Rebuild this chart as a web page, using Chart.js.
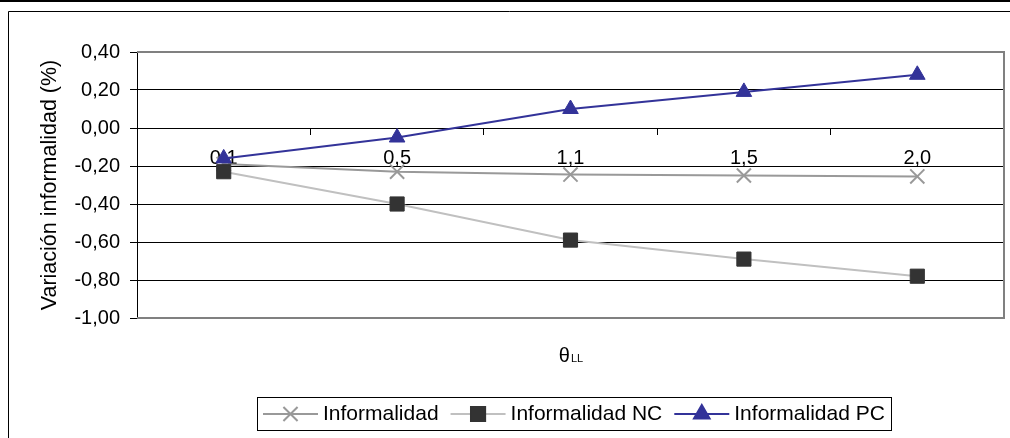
<!DOCTYPE html>
<html>
<head>
<meta charset="utf-8">
<script src="https://cdn.jsdelivr.net/npm/chart.js@4/dist/chart.umd.min.js"></script>
<style>
  html, body { margin: 0; padding: 0; background: #fff; }
  #wrap { width: 1010px; height: 438px; position: relative; }
</style>
</head>
<body>
<div id="wrap"><canvas id="chart"></canvas></div>
<script>
// values
const categories = ['0,1', '0,5', '1,1', '1,5', '2,0'];
const informalidad = [-0.19, -0.23, -0.245, -0.25, -0.255];
const informalidadNC = [-0.23, -0.40, -0.59, -0.69, -0.78];
const informalidadPC = [-0.16, -0.05, 0.10, 0.19, 0.28];
const seriesNames = ['Informalidad', 'Informalidad NC', 'Informalidad PC'];
const yTitle = 'Variación informalidad (%)';
const xTitle = 'θ';
const xTitleSub = 'LL';

const FONT = 'Arial, "Liberation Sans", sans-serif';
const comma = v => (Math.abs(v) < 1e-9 ? 0 : v).toFixed(2).replace('.', ',');

// outer frame + grey plot border
const frame = {
  id: 'frame',
  beforeDraw(chart) {
    const { ctx, width, height } = chart;
    ctx.save();
    ctx.fillStyle = '#fff';
    ctx.fillRect(0, 0, width, height);
    ctx.strokeStyle = '#000';
    ctx.lineWidth = 2;
    ctx.beginPath(); ctx.moveTo(0, 1); ctx.lineTo(width, 1); ctx.stroke();
    ctx.lineWidth = 1;
    ctx.beginPath(); ctx.moveTo(8.5, height); ctx.lineTo(8.5, 11.5); ctx.lineTo(width, 11.5); ctx.stroke();
    ctx.restore();
  },
  beforeDatasetsDraw(chart) {
    const { ctx, chartArea: a } = chart;
    ctx.save();
    ctx.strokeStyle = '#808080';
    ctx.lineWidth = 2;
    ctx.beginPath();
    ctx.moveTo(a.left, a.top); ctx.lineTo(a.right, a.top);
    ctx.lineTo(a.right, a.bottom); ctx.lineTo(a.left, a.bottom);
    ctx.stroke();
    ctx.restore();
  }
};

// x title with subscript, under the plot
const xTitlePlugin = {
  id: 'xTitle',
  afterDraw(chart) {
    const { ctx, chartArea: a } = chart;
    ctx.save();
    ctx.fillStyle = '#000';
    ctx.textBaseline = 'alphabetic';
    ctx.font = '20px ' + FONT;
    const w1 = ctx.measureText(xTitle).width;
    ctx.font = '11px ' + FONT;
    const w2 = ctx.measureText(xTitleSub).width;
    let x = (a.left + a.right) / 2 - (w1 + w2) / 2;
    const y = a.bottom + 44;
    ctx.font = '20px ' + FONT;
    ctx.fillText(xTitle, x, y);
    ctx.font = '11px ' + FONT;
    ctx.fillText(xTitleSub, x + w1 + 1, y);
    ctx.restore();
  }
};

// boxed legend: line sample with marker, then name
const legendBox = {
  id: 'legendBox',
  afterDraw(chart) {
    const { ctx } = chart;
    const sets = chart.data.datasets;
    const lineLen = 55, gapText = 5, gapItem = 12, padX = 6;
    ctx.save();
    ctx.font = '21px ' + FONT;
    let total = padX * 2;
    const widths = sets.map(d => ctx.measureText(d.label).width);
    widths.forEach((w, i) => { total += lineLen + gapText + w + (i < widths.length - 1 ? gapItem : 0); });
    const top = 397, bottom = 430, cx = 574;
    const left = Math.round(cx - total / 2);
    ctx.strokeStyle = '#000';
    ctx.lineWidth = 1;
    ctx.strokeRect(left + 0.5, top + 0.5, Math.round(total), bottom - top);
    const my = (top + bottom) / 2 + 0.5;
    let x = left + padX;
    sets.forEach((d, i) => {
      ctx.strokeStyle = d.borderColor;
      ctx.lineWidth = d.borderWidth;
      ctx.beginPath(); ctx.moveTo(x, my); ctx.lineTo(x + lineLen, my); ctx.stroke();
      ctx.fillStyle = d.pointBackgroundColor;
      ctx.strokeStyle = d.pointBorderColor;
      Chart.helpers.drawPoint(ctx, {
        pointStyle: d.pointStyle, radius: d.pointRadius, rotation: 0, borderWidth: d.pointBorderWidth
      }, x + lineLen / 2, my);
      ctx.fillStyle = '#000';
      ctx.textBaseline = 'middle';
      ctx.textAlign = 'left';
      ctx.fillText(d.label, x + lineLen + gapText, my);
      x += lineLen + gapText + widths[i] + gapItem;
    });
    ctx.restore();
  }
};

new Chart(document.getElementById('chart'), {
  type: 'line',
  data: {
    labels: categories,
    datasets: [
      {
        label: seriesNames[0], data: informalidad, order: 2,
        borderColor: '#999999', borderWidth: 2,
        pointStyle: 'crossRot', pointRadius: 10, pointBorderWidth: 2,
        pointBackgroundColor: '#999999', pointBorderColor: '#999999'
      },
      {
        label: seriesNames[1], data: informalidadNC, order: 1,
        borderColor: '#c0c0c0', borderWidth: 2,
        pointStyle: 'rect', pointRadius: 10, pointBorderWidth: 1,
        pointBackgroundColor: '#333333', pointBorderColor: '#333333'
      },
      {
        label: seriesNames[2], data: informalidadPC, order: 0,
        borderColor: '#333399', borderWidth: 2,
        pointStyle: 'triangle', pointRadius: 9, pointBorderWidth: 1,
        pointBackgroundColor: '#333399', pointBorderColor: '#333399'
      }
    ]
  },
  options: {
    responsive: true,
    maintainAspectRatio: false,
    animation: false,
    events: [],
    layout: { autoPadding: false, padding: { left: 0, top: 52, right: 6, bottom: 120 } },
    plugins: {
      legend: { display: false },
      tooltip: { enabled: false },
      title: { display: false }
    },
    scales: {
      x: {
        type: 'category',
        position: { y: 0 },
        offset: true,
        afterFit(scale) { scale.paddingLeft = 0; scale.paddingRight = 0; },
        grid: {
          offset: true, drawOnChartArea: false, drawTicks: true,
          tickLength: 6, color: '#000', lineWidth: 1
        },
        border: { color: '#000', width: 1 },
        ticks: { color: '#000', font: { family: FONT, size: 20 }, padding: 12, maxRotation: 0 }
      },
      y: {
        type: 'linear',
        min: -1, max: 0.4,
        afterFit(scale) { scale.width = 137; },
        grid: { color: '#000', lineWidth: 1, drawTicks: true, tickLength: 7 },
        border: { color: '#000', width: 1 },
        ticks: {
          stepSize: 0.2, color: '#000', padding: 10,
          font: { family: FONT, size: 20 },
          callback: v => comma(v)
        },
        title: {
          display: true, text: yTitle, color: '#000',
          font: { family: FONT, size: 21.5 },
          padding: { top: 37, bottom: 0 }
        }
      }
    }
  },
  plugins: [frame, xTitlePlugin, legendBox]
});
</script>
</body>
</html>
